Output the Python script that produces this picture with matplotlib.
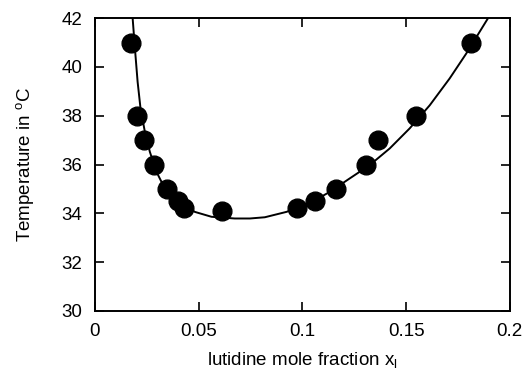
import numpy as np
import matplotlib
matplotlib.use("Agg")
import matplotlib.pyplot as plt

plt.rcParams["font.family"] = ["Liberation Sans", "DejaVu Sans"]
plt.rcParams["mathtext.fontset"] = "custom"
plt.rcParams["mathtext.rm"] = "Liberation Sans"
plt.rcParams["mathtext.it"] = "Liberation Sans:italic"

# measured points
x_meas = [0.0173, 0.0201, 0.0238, 0.0286, 0.0347, 0.0401, 0.0430, 0.0613,
          0.0975, 0.1061, 0.1163, 0.1309, 0.1366, 0.1549, 0.1814]
t_meas = [41.0, 38.0, 37.0, 36.0, 35.0, 34.5, 34.2, 34.1,
          34.2, 34.5, 35.0, 36.0, 37.0, 38.0, 41.0]

# fitted curve
x_fit = [0.0182, 0.0193, 0.0206, 0.0220, 0.0241, 0.0265, 0.0297, 0.0337,
         0.0401, 0.0482, 0.0562, 0.0674, 0.0747, 0.0819, 0.0923, 0.1020,
         0.1132, 0.1228, 0.1325, 0.1421, 0.1517, 0.1614, 0.1710, 0.1790,
         0.1895]
t_fit = [42.0, 40.76, 39.39, 38.30, 37.34, 36.52, 35.70, 35.02,
         34.40, 34.06, 33.86, 33.79, 33.79, 33.84, 34.06, 34.34,
         34.88, 35.43, 35.98, 36.66, 37.48, 38.43, 39.53, 40.55,
         42.0]

fig = plt.figure(figsize=(5.3, 3.75), dpi=100)
ax = fig.add_axes([0.179, 0.1707, 0.783, 0.781])

ax.plot(x_fit, t_fit, color="black", lw=1.4)
ax.plot(x_meas, t_meas, "o", color="black", ms=13.5)

ax.set_xlim(0, 0.2)
ax.set_ylim(30, 42)
ax.set_xticks([0, 0.05, 0.1, 0.15, 0.2])
ax.set_xticklabels(["0", "0.05", "0.1", "0.15", "0.2"])
ax.set_yticks(np.arange(30, 43, 2))
ax.tick_params(direction="in", length=6.5, width=1.2, top=True, right=True,
               labelsize=13.5)
ax.tick_params(axis="x", pad=9)
ax.tick_params(axis="y", pad=9)
for s in ax.spines.values():
    s.set_linewidth(1.4)

ax.set_xlabel(r"lutidine mole fraction x$_{\rm l}$", fontsize=13.5, labelpad=7)
ax.set_ylabel(r"Temperature in $^{\rm o}$C", fontsize=13.5, labelpad=18)

fig.savefig("out.png", dpi=100)
